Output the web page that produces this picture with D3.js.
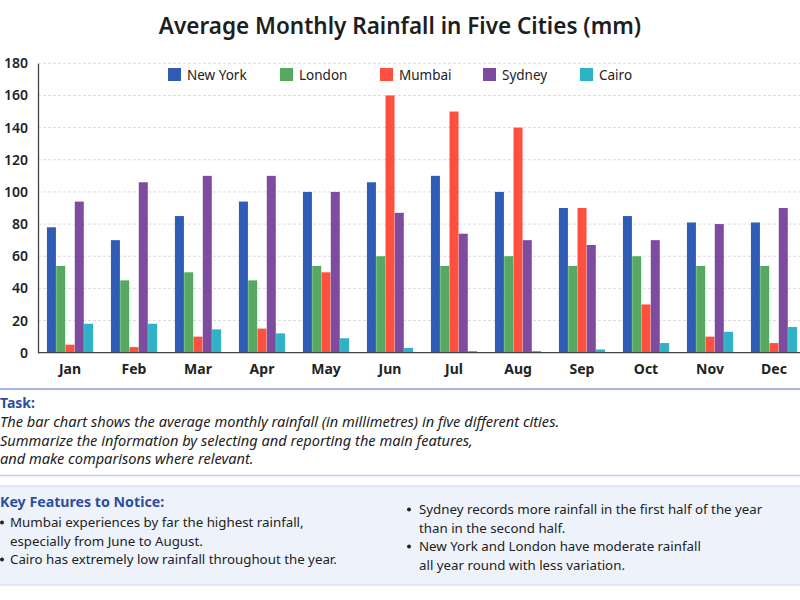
<!DOCTYPE html>
<html>
<head>
<meta charset='utf-8'>
<title>Rainfall</title>
<script src='https://cdn.jsdelivr.net/npm/d3@7'></script>
<style>
  body { margin: 0; background: #fff; }
  svg { font-family: 'Noto Sans', 'Lato', sans-serif; }
</style>
</head>
<body>
<svg width='800' height='600'></svg>
<script>
const months = ['Jan', 'Feb', 'Mar', 'Apr', 'May', 'Jun', 'Jul', 'Aug', 'Sep', 'Oct', 'Nov', 'Dec']
const cities = ['New York', 'London', 'Mumbai', 'Sydney', 'Cairo']
const newYork = [78, 70, 85, 94, 100, 106, 110, 100, 90, 85, 81, 81]
const london  = [54, 45, 50, 45, 54, 60, 54, 60, 54, 60, 54, 54]
const mumbai  = [5, 3.5, 10, 15, 50, 160, 150, 140, 90, 30, 10, 6]
const sydney  = [94, 106, 110, 110, 100, 87, 74, 70, 67, 70, 80, 90]
const cairo   = [18, 18, 14.5, 12, 9, 3, 1, 1, 2, 6, 13, 16]
const yTicks = [0, 20, 40, 60, 80, 100, 120, 140, 160, 180]
const colors = ['#2f5db5', '#57a862', '#ff4f3f', '#7d4c9e', '#2fb1c6']

const series = [newYork, london, mumbai, sydney, cairo]
const rows = months.map((m, i) => ({ month: m, values: series.map((s, j) => ({ city: cities[j], value: s[i] })) }))

const svg = d3.select('svg')

// title
svg.append('text')
    .attr('x', 400).attr('y', 34)
    .attr('text-anchor', 'middle')
    .attr('font-size', 22.5).attr('font-weight', 600).attr('fill', '#1e1e1e')
    .text('Average Monthly Rainfall in Five Cities (mm)')

const x0 = d3.scaleBand().domain(months).range([38, 806]).paddingInner(0.27).paddingOuter(0.135)
const x1 = d3.scaleBand().domain(cities).range([0, x0.bandwidth()]).padding(0.03)
const y = d3.scaleLinear().domain([0, 180]).range([352.7, 63.3])

// grid
svg.append('g').selectAll('line')
    .data(yTicks.slice(1))
    .enter().append('line')
    .attr('x1', 38).attr('x2', 800)
    .attr('y1', d => y(d)).attr('y2', d => y(d))
    .attr('stroke', '#dcdcdc').attr('stroke-dasharray', '3,2')

// bars
const groups = svg.append('g').selectAll('g')
    .data(rows)
    .enter().append('g')
    .attr('transform', d => `translate(${x0(d.month)},0)`)

groups.selectAll('rect')
    .data(d => d.values)
    .enter().append('rect')
    .attr('x', d => x1(d.city))
    .attr('width', x1.bandwidth())
    .attr('y', d => y(d.value))
    .attr('height', d => y(0) - y(d.value))
    .attr('fill', (d, i) => colors[i])

// axes
const yAxis = svg.append('g')
    .attr('transform', 'translate(38,0)')
    .call(d3.axisLeft(y).tickValues(yTicks).tickSize(0).tickPadding(10))
yAxis.select('.domain').attr('stroke', '#444').attr('stroke-width', 1.3)
yAxis.selectAll('text').attr('font-size', 14).attr('font-weight', 600).attr('fill', '#222')
    .attr('font-family', 'Noto Sans')

const xAxis = svg.append('g')
    .attr('transform', 'translate(0,352.7)')
    .call(d3.axisBottom(x0).tickSize(0).tickPadding(11))
xAxis.select('.domain').attr('stroke', '#444').attr('stroke-width', 1.3).attr('d', 'M38,0H800')
xAxis.selectAll('text').attr('font-size', 14).attr('font-weight', 700).attr('fill', '#222')
    .attr('font-family', 'Noto Sans')

// legend
const legendX = [168, 280, 380, 483, 580]
const legend = svg.append('g').selectAll('g')
    .data(cities)
    .enter().append('g')
    .attr('transform', (d, i) => `translate(${legendX[i]},68)`)
legend.append('rect').attr('width', 13).attr('height', 13).attr('fill', (d, i) => colors[i])
legend.append('text').attr('x', 19).attr('y', 11.5)
    .attr('font-size', 13.5).attr('fill', '#222').text(d => d)

// task section
svg.append('line').attr('x1', 0).attr('x2', 800).attr('y1', 389).attr('y2', 389)
    .attr('stroke', '#a9b2e6').attr('stroke-width', 2)
svg.append('text').attr('x', 0).attr('y', 408)
    .attr('font-size', 14).attr('font-weight', 700).attr('fill', '#2b4e9e').text('Task:')
const taskLines = ['The bar chart shows the average monthly rainfall (in millimetres) in five different cities.',
    'Summarize the information by selecting and reporting the main features,',
    'and make comparisons where relevant.']
svg.append('g').selectAll('text')
    .data(taskLines)
    .enter().append('text')
    .attr('x', 0).attr('y', (d, i) => 427 + i * 18.5)
    .attr('font-size', 14.6).attr('font-style', 'italic').attr('fill', '#222')
    .text(d => d)
svg.append('line').attr('x1', 0).attr('x2', 800).attr('y1', 475.5).attr('y2', 475.5)
    .attr('stroke', '#c4cbef').attr('stroke-width', 1.3)

// key features box
svg.append('rect').attr('x', -2).attr('y', 486).attr('width', 804).attr('height', 99)
    .attr('fill', '#eef3fb').attr('stroke', '#c9d3ee')
svg.append('text').attr('x', 0).attr('y', 507)
    .attr('font-size', 14.2).attr('font-weight', 700).attr('fill', '#2b4e9e').text('Key Features to Notice:')

const leftNotes = [['Mumbai experiences by far the highest rainfall,', 'especially from June to August.'],
    ['Cairo has extremely low rainfall throughout the year.']]
const rightNotes = [['Sydney records more rainfall in the first half of the year', 'than in the second half.'],
    ['New York and London have moderate rainfall', 'all year round with less variation.']]

function notes(list, bx, tx, y0) {
    let yy = y0
    list.forEach(lines => {
        svg.append('circle').attr('cx', bx).attr('cy', yy - 4.5).attr('r', 2).attr('fill', '#222')
        lines.forEach(t => {
            svg.append('text').attr('x', tx).attr('y', yy)
                .attr('font-size', 13.3).attr('fill', '#222').text(t)
            yy += 18.5
        })
    })
}
notes(leftNotes, 2, 10, 527)
notes(rightNotes, 409, 419, 514)
</script>
</body>
</html>
